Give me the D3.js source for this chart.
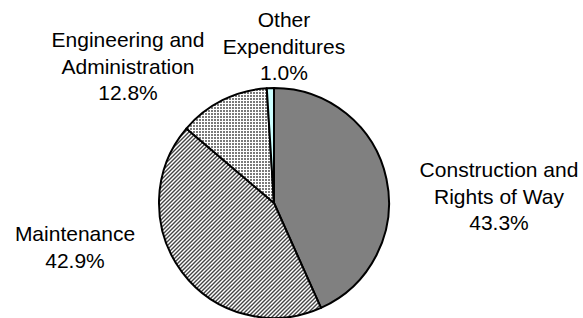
<html lang="en">
  <head>
    <title>Expenditures</title>
    <script src="https://d3js.org/d3.v7.min.js"></script>
    <style>
      body { margin: 0; background: white; }
      text { font-family: "Liberation Sans", Arial, sans-serif; font-size: 21px; fill: #000; }
    </style>
  </head>
  <body>
  <script>

  var w = 583;
  var h = 318;

  // data
  var categories = ["Construction and Rights of Way", "Maintenance", "Engineering and Administration", "Other Expenditures"];
  var values = [43.3, 42.9, 12.8, 1.0];
  var labelLines = [
    ["Construction and", "Rights of Way", "43.3%"],
    ["Maintenance", "42.9%"],
    ["Engineering and", "Administration", "12.8%"],
    ["Other", "Expenditures", "1.0%"]
  ];

  var cx = 274, cy = 203, r = 115;
  var fills = ["#808080", "url(#diag)", "url(#grid)", "#ccffff"];
  // label anchor (center x, first baseline)
  var labelPos = [[499, 177], [75, 241], [128, 47], [284, 27]];
  var lineH = 26.5;

  var svg = d3.select("body")
    .append("svg")
      .attr("width", w)
      .attr("height", h);

  svg.append("rect")
    .attr("width", w)
    .attr("height", h)
    .attr("fill", "white");

  var defs = svg.append("defs");

  // fine diagonal hatch
  var diag = defs.append("pattern")
    .attr("id", "diag")
    .attr("patternUnits", "userSpaceOnUse")
    .attr("width", 4)
    .attr("height", 4);
  diag.append("rect").attr("width", 4).attr("height", 4).attr("fill", "#fff");
  diag.append("path")
    .attr("d", "M-1,1 L1,-1 M0,4 L4,0 M3,5 L5,3")
    .attr("stroke", "#444")
    .attr("stroke-width", 1.4);

  // small grid
  var grid = defs.append("pattern")
    .attr("id", "grid")
    .attr("patternUnits", "userSpaceOnUse")
    .attr("width", 3)
    .attr("height", 3);
  grid.append("rect").attr("width", 3).attr("height", 3).attr("fill", "#fff");
  grid.append("rect").attr("width", 2).attr("height", 2).attr("fill", "#7a7a7a");

  var pie = d3.pie().sort(null).value(d => d);
  var arc = d3.arc().innerRadius(0).outerRadius(r);

  var g = svg.append("g")
    .attr("transform", `translate(${cx}, ${cy})`);

  g.selectAll("path")
    .data(pie(values))
    .enter()
    .append("path")
      .attr("d", arc)
      .attr("fill", (d, i) => fills[i])
      .attr("stroke", "#000")
      .attr("stroke-width", 2)
      .attr("stroke-linejoin", "round");

  // labels
  var labels = svg.append("g").attr("class", "labels");
  labelLines.forEach(function(lines, i) {
    var t = labels.append("text")
      .attr("text-anchor", "middle")
      .attr("x", labelPos[i][0])
      .attr("y", labelPos[i][1]);
    lines.forEach(function(s, j) {
      t.append("tspan")
        .attr("x", labelPos[i][0])
        .attr("y", labelPos[i][1] + j * lineH)
        .text(s);
    });
  });

  </script>
  </body>
</html>
